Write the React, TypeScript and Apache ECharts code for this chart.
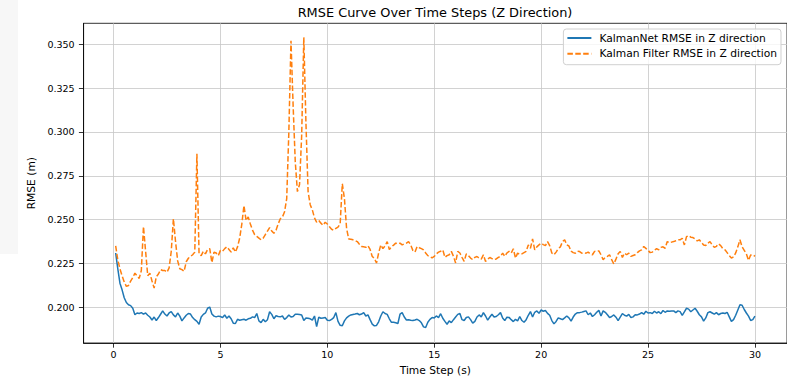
import React, { useEffect, useRef } from "react";
import * as echarts from "echarts";

const TIME_STEP = 0.1;

const seriesNames = ["KalmanNet RMSE in Z direction", "Kalman Filter RMSE in Z direction"];
const titleText = "RMSE Curve Over Time Steps (Z Direction)";
const xAxisName = "Time Step (s)";
const yAxisName = "RMSE (m)";
const xTicks = [0, 5, 10, 15, 20, 25, 30];
const yTicks = [0.2, 0.225, 0.25, 0.275, 0.3, 0.325, 0.35];

const kalmanNetRmse = [
  0.231, 0.222, 0.2138, 0.21, 0.2055, 0.2028, 0.2015, 0.201, 0.1995, 0.1958,
  0.1968, 0.1965, 0.197, 0.1962, 0.1968, 0.1955, 0.1945, 0.1928, 0.1945, 0.1925,
  0.1942, 0.1961, 0.198, 0.1962, 0.1951, 0.1968, 0.1976, 0.1957, 0.1946, 0.1968,
  0.195, 0.1923, 0.194, 0.1955, 0.1965, 0.1962, 0.1942, 0.193, 0.192, 0.1904,
  0.1945, 0.196, 0.1968, 0.1995, 0.2002, 0.1962, 0.195, 0.1946, 0.195, 0.1948,
  0.1942, 0.1957, 0.1938, 0.1951, 0.1935, 0.191, 0.1908, 0.1932, 0.1927, 0.193,
  0.1932, 0.1927, 0.1935, 0.1938, 0.1946, 0.1942, 0.1965, 0.1923, 0.1913, 0.1932,
  0.1918, 0.193, 0.1975, 0.196, 0.1935, 0.1952, 0.1948, 0.1946, 0.1951, 0.1932,
  0.1942, 0.1957, 0.1945, 0.1948, 0.1961, 0.1961, 0.196, 0.1957, 0.1925, 0.194,
  0.1938, 0.1935, 0.1927, 0.1951, 0.189, 0.1944, 0.1938, 0.194, 0.1942, 0.1927,
  0.1925, 0.1932, 0.1942, 0.197, 0.192, 0.1898, 0.1895, 0.1923, 0.194, 0.195,
  0.1957, 0.196, 0.1962, 0.1965, 0.1958, 0.1962, 0.197, 0.1951, 0.1957, 0.193,
  0.1905, 0.1895, 0.1897, 0.1918, 0.1951, 0.1975, 0.1965, 0.196, 0.1935, 0.1915,
  0.1915, 0.1912, 0.1908, 0.1961, 0.197, 0.1945, 0.1928, 0.193, 0.1927, 0.1925,
  0.1928, 0.1932, 0.1925, 0.1912, 0.1889, 0.1885, 0.1915, 0.1932, 0.1942, 0.194,
  0.1951, 0.1942, 0.1964, 0.1938, 0.192, 0.1904, 0.1923, 0.1913, 0.193, 0.1945,
  0.196, 0.1965, 0.193, 0.1925, 0.1942, 0.1946, 0.193, 0.191, 0.192, 0.1945,
  0.1957, 0.1946, 0.197, 0.1951, 0.1927, 0.1945, 0.1961, 0.1945, 0.1948, 0.1958,
  0.197, 0.194, 0.1925, 0.1944, 0.1943, 0.193, 0.1919, 0.1932, 0.1923, 0.1948,
  0.1925, 0.1915, 0.193, 0.1955, 0.1976, 0.1945, 0.1972, 0.198, 0.1966, 0.1985,
  0.1978, 0.1982, 0.1966, 0.1955, 0.1925, 0.1906, 0.192, 0.194, 0.1935, 0.193,
  0.194, 0.1951, 0.194, 0.1922, 0.1945, 0.1962, 0.197, 0.197, 0.1973, 0.1977,
  0.198, 0.1958, 0.1968, 0.1948, 0.1958, 0.1972, 0.1983, 0.1951, 0.198, 0.1972,
  0.1958, 0.1942, 0.1948, 0.1957, 0.1944, 0.1925, 0.1945, 0.1965, 0.1955, 0.195,
  0.196, 0.1942, 0.1946, 0.1958, 0.1957, 0.1962, 0.197, 0.1961, 0.1978, 0.1968,
  0.197, 0.1965, 0.1978, 0.1968, 0.1975, 0.1964, 0.1982, 0.1972, 0.198, 0.1978,
  0.198, 0.198, 0.197, 0.198, 0.1976, 0.1955, 0.1975, 0.1995, 0.199, 0.1975,
  0.1985, 0.1995, 0.1978, 0.1958, 0.1946, 0.1922, 0.194, 0.197, 0.1975, 0.1968,
  0.1961, 0.197, 0.1958, 0.1965, 0.1968, 0.1965, 0.1972, 0.1946, 0.192, 0.193,
  0.1955, 0.1985, 0.2015, 0.2012, 0.1988, 0.1968, 0.195, 0.1925, 0.193, 0.195,
];

const kalmanFilterRmse = [
  0.235, 0.227, 0.222, 0.218, 0.2145, 0.212, 0.2125, 0.215, 0.217, 0.2195,
  0.218, 0.2165, 0.221, 0.246, 0.232, 0.218, 0.2195, 0.215, 0.211, 0.2175,
  0.219, 0.2215, 0.221, 0.221, 0.22, 0.2225, 0.232, 0.2505, 0.2375, 0.2265,
  0.222, 0.2215, 0.2205, 0.226, 0.228, 0.229, 0.23, 0.2315, 0.2875, 0.2305,
  0.2295, 0.232, 0.2305, 0.233, 0.2335, 0.2255, 0.2315, 0.231, 0.2295, 0.2325,
  0.232, 0.2335, 0.2345, 0.233, 0.2315, 0.234, 0.2315, 0.2345, 0.2395, 0.2475,
  0.258, 0.2495, 0.2515, 0.2475, 0.244, 0.2415, 0.2405, 0.2395, 0.2385, 0.2395,
  0.2415, 0.2435, 0.2455, 0.2435, 0.2422, 0.244, 0.2475, 0.2505, 0.2515, 0.2545,
  0.262, 0.3, 0.352, 0.315, 0.283, 0.266, 0.27, 0.298, 0.354, 0.305,
  0.266, 0.2585, 0.2555, 0.251, 0.2485, 0.2495, 0.248, 0.2468, 0.2485, 0.2475,
  0.246, 0.2445, 0.244, 0.245, 0.2458, 0.2475, 0.2705, 0.262, 0.245, 0.239,
  0.2388, 0.2385, 0.238, 0.2375, 0.236, 0.2347, 0.2345, 0.2342, 0.2352, 0.233,
  0.229, 0.228, 0.2253, 0.231, 0.2356, 0.2335, 0.235, 0.2375, 0.233, 0.2345,
  0.2355, 0.2366, 0.2362, 0.2366, 0.2356, 0.2362, 0.2366, 0.2375, 0.2356, 0.2325,
  0.2315, 0.2347, 0.234, 0.2335, 0.2328, 0.231, 0.2295, 0.229, 0.2282, 0.229,
  0.2305, 0.2315, 0.232, 0.2328, 0.2285, 0.2295, 0.23, 0.2319, 0.2291, 0.2253,
  0.2319, 0.231, 0.2285, 0.2262, 0.2305, 0.2295, 0.2281, 0.2272, 0.2285, 0.229,
  0.2281, 0.2275, 0.23, 0.2262, 0.2275, 0.2284, 0.2278, 0.2272, 0.2276, 0.2285,
  0.2291, 0.2309, 0.2291, 0.231, 0.2319, 0.2309, 0.2334, 0.2281, 0.2309, 0.2302,
  0.2305, 0.2312, 0.2319, 0.2356, 0.2337, 0.239, 0.2328, 0.2345, 0.2356, 0.2365,
  0.2358, 0.2352, 0.2375, 0.2352, 0.231, 0.23, 0.2315, 0.2335, 0.2345, 0.2375,
  0.2385, 0.2356, 0.235, 0.232, 0.2312, 0.2309, 0.232, 0.2318, 0.2309, 0.2312,
  0.2309, 0.2315, 0.2305, 0.23, 0.2319, 0.232, 0.2322, 0.23, 0.2272, 0.2285,
  0.2291, 0.23, 0.2272, 0.2247, 0.2275, 0.2305, 0.2319, 0.2285, 0.2309, 0.23,
  0.2309, 0.2291, 0.2296, 0.23, 0.2312, 0.2322, 0.2328, 0.2347, 0.2336, 0.2325,
  0.2312, 0.2315, 0.2325, 0.2335, 0.2328, 0.2342, 0.2345, 0.2337, 0.2375, 0.2368,
  0.2372, 0.2375, 0.238, 0.2385, 0.2385, 0.2394, 0.2356, 0.2403, 0.2409, 0.24,
  0.2398, 0.239, 0.2379, 0.2385, 0.237, 0.2355, 0.2352, 0.2366, 0.2375, 0.2356,
  0.2342, 0.2348, 0.2362, 0.2352, 0.2335, 0.2328, 0.2312, 0.2295, 0.2281, 0.2288,
  0.231, 0.2345, 0.2385, 0.2345, 0.2325, 0.2305, 0.2268, 0.2298, 0.23, 0.2291,
];

const FONT = "DejaVu Sans";

export default function App() {
  const ref = useRef<HTMLDivElement>(null);

  useEffect(() => {
    if (!ref.current) return;
    const chart = echarts.init(ref.current, null, { renderer: "svg" });
    const times = kalmanNetRmse.map((_, i) => Number(((i + 1) * TIME_STEP).toFixed(1)));

    const axisLineStyle = { color: "#000", width: 0.8 };
    const splitLineStyle = { color: "#c6c6c6", width: 0.8 };

    chart.setOption({
      animation: false,
      backgroundColor: "#ffffff",
      textStyle: { fontFamily: FONT },
      graphic: [
        {
          type: "rect",
          z: -10,
          shape: { x: 0, y: 0, width: 18, height: 254 },
          style: { fill: "#f7f7f7" },
        },
      ],
      title: {
        text: titleText,
        left: 435,
        top: 6,
        padding: 0,
        textAlign: "center",
        textStyle: { fontFamily: FONT, fontSize: 12.9, fontWeight: "normal", color: "#000" },
      },
      legend: {
        data: seriesNames,
        orient: "vertical",
        right: 6,
        top: 29,
        padding: [3, 4, 5, 3],
        backgroundColor: "rgba(255,255,255,0.8)",
        borderColor: "#d0d0d0",
        borderWidth: 1,
        borderRadius: 3,
        itemWidth: 24,
        itemHeight: 12,
        itemGap: 3.7,
        itemStyle: { opacity: 0, borderWidth: 0 },
        textStyle: { fontFamily: FONT, fontSize: 10.7, color: "#000", padding: [0, 0, 0, 3], lineHeight: 12 },
      },
      grid: {
        left: 83.6,
        right: -2,
        top: 23.3,
        bottom: 35.3,
        show: true,
        borderColor: "#000",
        borderWidth: 0.8,
        backgroundColor: "transparent",
      },
      xAxis: {
        type: "value",
        min: -1.4,
        max: 31.5,
        name: xAxisName,
        nameLocation: "middle",
        nameGap: 22,
        nameTextStyle: { fontFamily: FONT, fontSize: 10.7, color: "#000" },
        axisLine: { show: true, onZero: false, lineStyle: axisLineStyle },
        axisTick: { show: true, inside: false, length: 4.7, customValues: xTicks, lineStyle: axisLineStyle },
        axisLabel: { customValues: xTicks, fontFamily: FONT, fontSize: 9.5, color: "#000", margin: 6.5 },
        splitLine: { show: true, lineStyle: splitLineStyle },
      },
      yAxis: {
        type: "value",
        min: 0.1797,
        max: 0.3619,
        name: yAxisName,
        nameLocation: "middle",
        nameGap: 44,
        nameTextStyle: { fontFamily: FONT, fontSize: 10.7, color: "#000" },
        axisLine: { show: true, onZero: false, lineStyle: axisLineStyle },
        axisTick: { show: true, inside: false, length: 4.7, customValues: yTicks, lineStyle: axisLineStyle },
        axisLabel: {
          customValues: yTicks,
          fontFamily: FONT,
          fontSize: 9.5,
          color: "#000",
          margin: 9,
          formatter: (v: number) => v.toFixed(3),
        },
        splitLine: { show: true, lineStyle: splitLineStyle },
      },
      series: [
        {
          name: seriesNames[0],
          type: "line",
          symbol: "none",
          data: times.map((t, i) => [t, kalmanNetRmse[i]]),
          lineStyle: { color: "#1f77b4", width: 1.5 },
          itemStyle: { color: "#1f77b4" },
        },
        {
          name: seriesNames[1],
          type: "line",
          symbol: "none",
          data: times.map((t, i) => [t, kalmanFilterRmse[i]]),
          lineStyle: { color: "#ff7f0e", width: 1.5, type: [5.5, 2.4] },
          itemStyle: { color: "#ff7f0e" },
        },
      ],
    });

    return () => chart.dispose();
  }, []);

  return (
    <div
      ref={ref}
      style={{ position: "fixed", left: 0, top: 0, width: 787, height: 381 }}
    />
  );
}
